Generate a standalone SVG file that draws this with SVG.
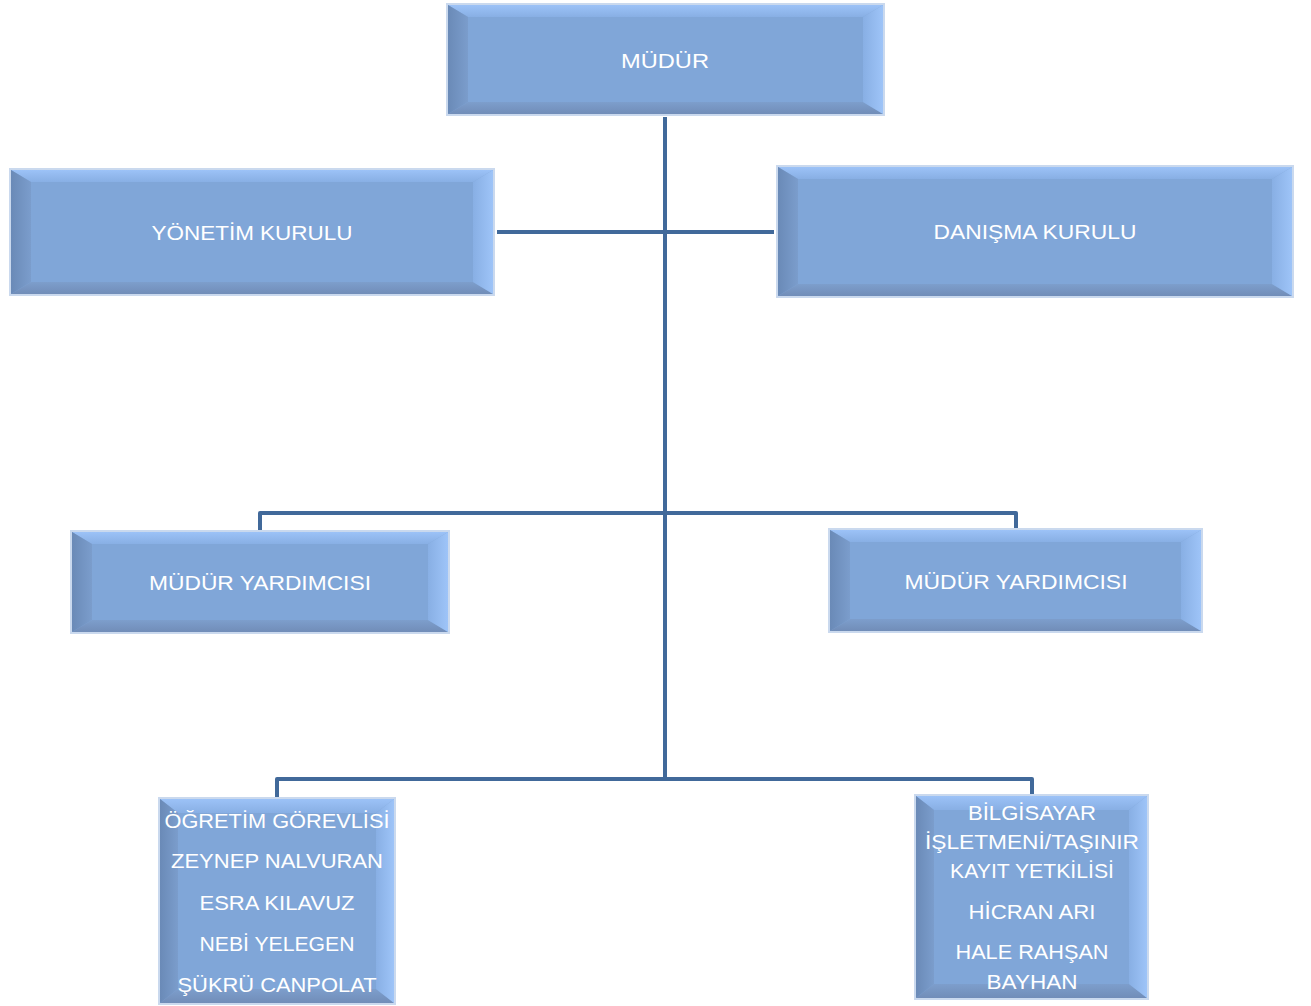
<svg xmlns="http://www.w3.org/2000/svg" width="1311" height="1006" viewBox="0 0 1311 1006">
<defs>
<linearGradient id="gTop" x1="0" y1="0" x2="0" y2="1"><stop offset="0" stop-color="#9cc2f7"/><stop offset="1" stop-color="#88afe4"/></linearGradient>
<linearGradient id="gBot" x1="0" y1="0" x2="0" y2="1"><stop offset="0" stop-color="#7d9ecc"/><stop offset="1" stop-color="#718db8"/></linearGradient>
<linearGradient id="gLeft" x1="0" y1="0" x2="1" y2="0"><stop offset="0" stop-color="#6a8ab7"/><stop offset="1" stop-color="#7b9dcc"/></linearGradient>
<linearGradient id="gRight" x1="0" y1="0" x2="1" y2="0"><stop offset="0" stop-color="#88afe4"/><stop offset="1" stop-color="#9ec4f8"/></linearGradient>
</defs>
<style>
.frame{fill:none;stroke:#cad9ee;stroke-width:2}
.face{fill:#80a6d8}
.t{fill:url(#gTop)}
.b{fill:url(#gBot)}
.l{fill:url(#gLeft)}
.r{fill:url(#gRight)}
.lbl{fill:#ffffff;font-family:"Liberation Sans",Arial,sans-serif;font-size:21px;text-anchor:middle}
.conn{fill:none;stroke:#41699a;stroke-width:4;stroke-linejoin:round;stroke-linecap:butt}
</style>
<rect width="1311" height="1006" fill="#ffffff"/>

<g id="connectors">
<path class="conn" d="M665 117 V780"/>
<path class="conn" d="M497 232 H774"/>
<path class="conn" d="M260 530 V513 H1016 V528"/>
<path class="conn" d="M277 797 V779 H1032 V794"/>
</g>

<g id="mudur">
<rect class="frame" x="447" y="4" width="437" height="111"/>
<rect class="face" x="448" y="5" width="435" height="109"/>
<polygon class="t" points="448,5 883,5 863,17 468,17"/>
<polygon class="b" points="448,114 883,114 863,102 468,102"/>
<polygon class="l" points="448,5 468,17 468,102 448,114"/>
<polygon class="r" points="883,5 863,17 863,102 883,114"/>
<text class="lbl" x="665" y="68" textLength="88" lengthAdjust="spacingAndGlyphs">MÜDÜR</text>
</g>

<g id="yonetim">
<rect class="frame" x="10" y="169" width="484" height="126"/>
<rect class="face" x="11" y="170" width="482" height="124"/>
<polygon class="t" points="11,170 493,170 473,182 31,182"/>
<polygon class="b" points="11,294 493,294 473,282 31,282"/>
<polygon class="l" points="11,170 31,182 31,282 11,294"/>
<polygon class="r" points="493,170 473,182 473,282 493,294"/>
<text class="lbl" x="252" y="240" textLength="201" lengthAdjust="spacingAndGlyphs">YÖNETİM KURULU</text>
</g>

<g id="danisma">
<rect class="frame" x="777" y="166" width="516" height="131"/>
<rect class="face" x="778" y="167" width="514" height="129"/>
<polygon class="t" points="778,167 1292,167 1272,179 798,179"/>
<polygon class="b" points="778,296 1292,296 1272,284 798,284"/>
<polygon class="l" points="778,167 798,179 798,284 778,296"/>
<polygon class="r" points="1292,167 1272,179 1272,284 1292,296"/>
<text class="lbl" x="1035" y="239" textLength="203" lengthAdjust="spacingAndGlyphs">DANIŞMA KURULU</text>
</g>

<g id="myard-left">
<rect class="frame" x="71" y="531" width="378" height="102"/>
<rect class="face" x="72" y="532" width="376" height="100"/>
<polygon class="t" points="72,532 448,532 428,544 92,544"/>
<polygon class="b" points="72,632 448,632 428,620 92,620"/>
<polygon class="l" points="72,532 92,544 92,620 72,632"/>
<polygon class="r" points="448,532 428,544 428,620 448,632"/>
<text class="lbl" x="260" y="590" textLength="222" lengthAdjust="spacingAndGlyphs">MÜDÜR YARDIMCISI</text>
</g>

<g id="myard-right">
<rect class="frame" x="829" y="529" width="373" height="103"/>
<rect class="face" x="830" y="530" width="371" height="101"/>
<polygon class="t" points="830,530 1201,530 1181,542 850,542"/>
<polygon class="b" points="830,631 1201,631 1181,619 850,619"/>
<polygon class="l" points="830,530 850,542 850,619 830,631"/>
<polygon class="r" points="1201,530 1181,542 1181,619 1201,631"/>
<text class="lbl" x="1016" y="589" textLength="223" lengthAdjust="spacingAndGlyphs">MÜDÜR YARDIMCISI</text>
</g>

<g id="ogretim">
<rect class="frame" x="159" y="798" width="236" height="206"/>
<rect class="face" x="160" y="799" width="234" height="204"/>
<polygon class="t" points="160,799 394,799 376,813 178,813"/>
<polygon class="b" points="160,1003 394,1003 376,989 178,989"/>
<polygon class="l" points="160,799 178,813 178,989 160,1003"/>
<polygon class="r" points="394,799 376,813 376,989 394,1003"/>
<text class="lbl" x="277" y="828" textLength="225" lengthAdjust="spacingAndGlyphs">ÖĞRETİM GÖREVLİSİ</text>
<text class="lbl" x="277" y="868" textLength="212" lengthAdjust="spacingAndGlyphs">ZEYNEP NALVURAN</text>
<text class="lbl" x="277" y="910" textLength="155" lengthAdjust="spacingAndGlyphs">ESRA KILAVUZ</text>
<text class="lbl" x="277" y="951" textLength="155" lengthAdjust="spacingAndGlyphs">NEBİ YELEGEN</text>
<text class="lbl" x="277" y="992" textLength="199" lengthAdjust="spacingAndGlyphs">ŞÜKRÜ CANPOLAT</text>
</g>

<g id="bilgisayar">
<rect class="frame" x="915" y="795" width="233" height="204"/>
<rect class="face" x="916" y="796" width="231" height="202"/>
<polygon class="t" points="916,796 1147,796 1129,810 934,810"/>
<polygon class="b" points="916,998 1147,998 1129,984 934,984"/>
<polygon class="l" points="916,796 934,810 934,984 916,998"/>
<polygon class="r" points="1147,796 1129,810 1129,984 1147,998"/>
<text class="lbl" x="1032" y="820" textLength="128" lengthAdjust="spacingAndGlyphs">BİLGİSAYAR</text>
<text class="lbl" x="1032" y="849" textLength="214" lengthAdjust="spacingAndGlyphs">İŞLETMENİ/TAŞINIR</text>
<text class="lbl" x="1032" y="878" textLength="164" lengthAdjust="spacingAndGlyphs">KAYIT YETKİLİSİ</text>
<text class="lbl" x="1032" y="919" textLength="127" lengthAdjust="spacingAndGlyphs">HİCRAN ARI</text>
<text class="lbl" x="1032" y="959" textLength="153" lengthAdjust="spacingAndGlyphs">HALE RAHŞAN</text>
<text class="lbl" x="1032" y="989" textLength="91" lengthAdjust="spacingAndGlyphs">BAYHAN</text>
</g>
</svg>
